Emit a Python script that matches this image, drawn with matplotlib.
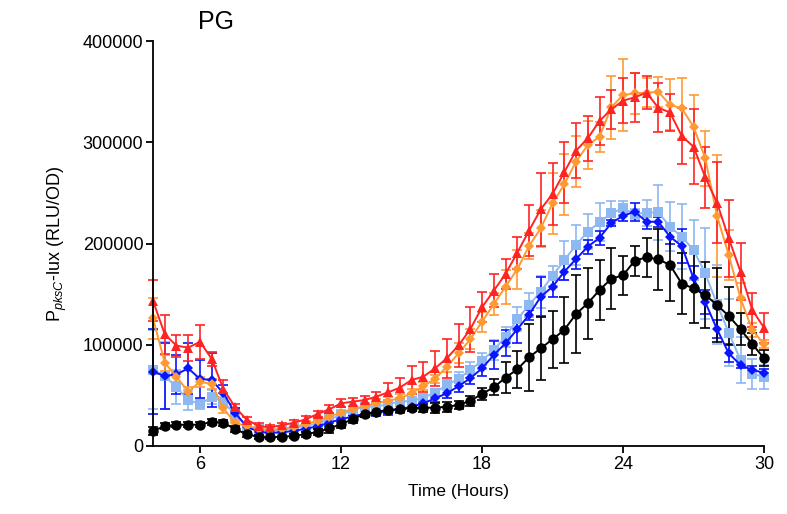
import matplotlib
matplotlib.use("Agg")
import matplotlib.pyplot as plt

plt.rcParams["font.family"] = ["Liberation Sans", "DejaVu Sans"]
plt.rcParams["mathtext.fontset"] = "custom"
plt.rcParams["mathtext.rm"] = "Liberation Sans"
plt.rcParams["mathtext.it"] = "Liberation Sans:italic"

hours = [4, 4.5, 5, 5.5, 6, 6.5, 7, 7.5, 8, 8.5, 9, 9.5, 10, 10.5, 11, 11.5,
         12, 12.5, 13, 13.5, 14, 14.5, 15, 15.5, 16, 16.5, 17, 17.5, 18, 18.5,
         19, 19.5, 20, 20.5, 21, 21.5, 22, 22.5, 23, 23.5, 24, 24.5, 25, 25.5,
         26, 26.5, 27, 27.5, 28, 28.5, 29, 29.5, 30]

black_mean = [15000, 19500, 21000, 21000, 21000, 24000, 23000, 16500, 11500, 9000,
              8500, 9200, 9900, 11800, 13800, 17500, 21400, 26700, 31500, 33900,
              35600, 36500, 37200, 37800, 37800, 38800, 40500, 44700, 51400, 58000,
              67500, 75700, 87600, 96500, 105400, 114600, 130400, 140900, 154000, 165200,
              168600, 183000, 186400, 184400, 178800, 160300, 155800, 149100, 139300, 128400,
              115300, 100700, 86600]
black_err = [4000, 3000, 2500, 2500, 2500, 3000, 3000, 3000, 2500, 2000,
             2000, 2000, 2000, 2500, 3000, 5000, 4000, 4000, 3000, 3000,
             3000, 3000, 3000, 4000, 5000, 5000, 4000, 5000, 6000, 8000,
             15000, 18000, 33000, 31000, 28000, 33000, 38500, 35000, 30000, 30000,
             19000, 15000, 19000, 30000, 36000, 30000, 34000, 33000, 37000, 29000,
             16000, 11000, 8000]

blue_mean = [73400, 69100, 70800, 76700, 66200, 65200, 52000, 32300, 19100, 14000,
             13000, 13500, 15000, 17000, 19500, 23000, 26500, 29000, 32000, 33000,
             34500, 36500, 38800, 42100, 47100, 52000, 59000, 66900, 76700, 89900,
             101400, 115300, 129400, 147500, 157300, 172100, 184700, 196800, 205700, 220000,
             227500, 231400, 221500, 221500, 206700, 197500, 165600, 142000, 115300, 91500,
             80000, 75100, 72400]
blue_err = [42000, 33000, 19000, 25000, 19000, 27000, 8000, 5000, 3000, 2500,
            2000, 2000, 2000, 2500, 2500, 3000, 3000, 3000, 3000, 3000,
            3500, 3500, 4000, 4000, 4000, 5000, 6000, 6000, 8000, 14000,
            13000, 14000, 5000, 19000, 10000, 8000, 10000, 7000, 7000, 3000,
            5000, 9000, 7000, 5000, 7000, 17000, 12000, 12000, 9000, 9000,
            3000, 4000, 4000]

lightblue_mean = [75100, 69400, 58000, 45400, 41500, 48100, 43800, 30600, 19500, 16500,
                  15100, 15800, 18100, 19750, 22400, 26300, 30600, 35600, 38800, 38800,
                  41500, 43800, 44500, 47700, 52600, 60200, 66400, 75100, 84300, 94800,
                  108000, 125100, 139300, 152400, 168200, 183300, 198500, 211700, 221000, 229800,
                  234800, 229100, 230400, 230800, 216600, 206700, 193600, 170600, 140200, 111900,
                  84900, 71100, 68400]
lightblue_err = [39000, 33000, 17000, 10000, 5000, 7000, 5000, 7000, 3000, 3000,
                 3000, 3000, 3000, 3000, 3000, 3000, 3000, 3000, 4000, 4000,
                 4000, 4000, 4000, 4000, 4000, 5000, 7000, 8000, 8000, 10000,
                 10000, 12000, 12000, 16000, 10000, 19000, 20000, 17000, 19000, 12000,
                 7000, 5000, 13000, 27000, 24000, 32000, 30000, 45000, 39000, 33000,
                 23000, 15000, 12000]

orange_mean = [126100, 82300, 68400, 53600, 63500, 61200, 37200, 22400, 20000, 17000,
               16000, 17000, 19000, 21500, 25000, 29000, 33000, 36500, 39500, 42100,
               44700, 47100, 52000, 59300, 66200, 78300, 91500, 105400, 122800, 140000,
               157300, 174500, 197500, 215000, 239700, 258300, 280800, 297300, 305500, 334500,
               346700, 348300, 349000, 349900, 337000, 333500, 315400, 284200, 227200, 188600,
               145900, 114600, 100400]
orange_err = [20000, 8000, 5000, 5000, 5000, 5000, 5000, 3000, 3000, 3000,
              3000, 3000, 3000, 3000, 3000, 3000, 3000, 3000, 3000, 4000,
              4000, 4000, 4000, 4000, 4000, 5000, 10000, 10000, 10000, 11000,
              17000, 19000, 13000, 18000, 30000, 30000, 25000, 24000, 15000, 31000,
              36000, 20000, 14000, 15000, 25000, 30000, 31000, 27000, 60000, 25000,
              15000, 7000, 4000]

red_mean = [143500, 110300, 99100, 97100, 103000, 85900, 56000, 38200, 25700, 19800,
            18400, 20700, 23000, 26300, 31600, 36200, 42100, 43800, 45400, 48700,
            53000, 57600, 65200, 68400, 76700, 86600, 99300, 115300, 137000, 153400,
            169900, 190900, 212600, 233800, 248900, 270400, 291700, 303900, 321000, 332500,
            341100, 344400, 349000, 334100, 329400, 306200, 295600, 265400, 240300, 205100,
            172100, 134300, 116800]
red_err = [20000, 19000, 11000, 13000, 17000, 7000, 9000, 3000, 3000, 2500,
           2500, 2500, 3000, 3000, 3000, 4000, 4000, 4000, 4000, 5000,
           9000, 10000, 14000, 15000, 17000, 19000, 21000, 22000, 15000, 16000,
           15000, 16000, 25000, 36000, 31000, 30000, 27000, 22000, 24000, 19000,
           22000, 24000, 16000, 24000, 18000, 28000, 37000, 30000, 40000, 38000,
           28000, 17000, 15000]

series = [
    (lightblue_mean, lightblue_err, "#8db8f2", "s", 7),
    (blue_mean, blue_err, "#0a14ff", "D", 5),
    (orange_mean, orange_err, "#ff9a33", "D", 5),
    (red_mean, red_err, "#ff2424", "^", 7.5),
    (black_mean, black_err, "#000000", "o", 7.5),
]

fig = plt.figure(figsize=(7.87, 5.14), dpi=100)
ax = fig.add_axes([0.1944, 0.1323, 0.7764, 0.7879])

for mean, err, color, marker, ms in series:
    line, caps, bars = ax.errorbar(hours, mean, yerr=err, fmt="-", marker=marker,
                                   color=color, markersize=ms, linewidth=1.4,
                                   elinewidth=1.2, capsize=3.6, capthick=1.2)
    line.set_markeredgewidth(0)
    line.set_clip_on(False)
    for c in caps:
        c.set_clip_on(False)
    for b in bars:
        b.set_clip_on(False)

ax.set_xlim(4, 30)
ax.set_ylim(0, 400000)
ax.set_xticks([6, 12, 18, 24, 30])
ax.set_yticks([0, 100000, 200000, 300000, 400000])
ax.set_yticklabels(["0", "100000", "200000", "300000", "400000"])

for side in ["top", "right"]:
    ax.spines[side].set_visible(False)
for side in ["left", "bottom"]:
    ax.spines[side].set_linewidth(1.3)
ax.tick_params(axis="both", direction="out", length=5, width=1.3, labelsize=13, pad=2)

ax.set_xlabel("Time (Hours)", fontsize=12.5, labelpad=8)
ax.set_ylabel(r"P$_{\mathit{pksC}}$-lux (RLU/OD)", fontsize=13, labelpad=10)

fig.text(0.275, 0.957, "PG", ha="center", va="center", fontsize=18)

fig.savefig("out.png", dpi=100)
